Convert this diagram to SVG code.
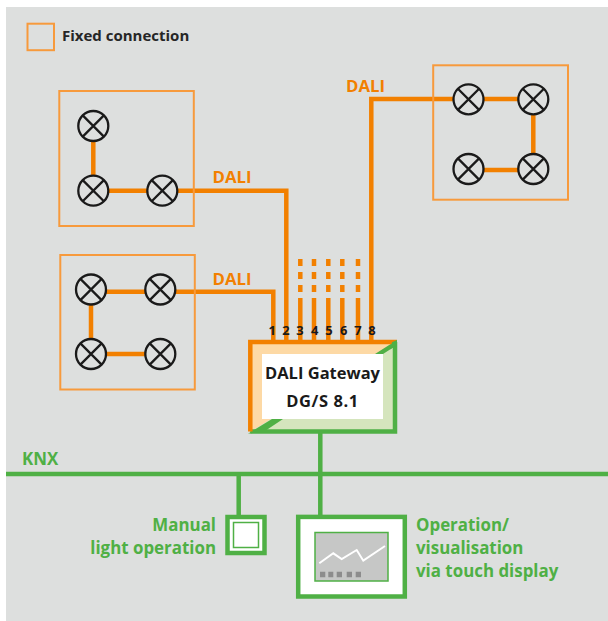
<svg xmlns="http://www.w3.org/2000/svg" width="608" height="621" viewBox="0 0 608 621">
<style>
text{font-family:"Open Sans","Noto Sans",sans-serif;font-weight:700}
.o{fill:none;stroke:#f28000;stroke-width:4.500}
.g{fill:none;stroke:#4fb045;stroke-width:4.500}
.fx{fill:none;stroke:#f79a3c;stroke-width:2}
.d{stroke-dasharray:7 6}
.lbl-o{fill:#f28000;font-size:16.800px}
.lbl-g{fill:#4fb045;font-size:16.900px}
.num{fill:#1a1a1a;font-size:13px;text-anchor:middle}
.k{fill:#1a1a1a;text-anchor:middle;font-size:16.500px}
.lamp circle{fill:none;stroke:#1a1a1a;stroke-width:2.300}
.lamp path{stroke:#1a1a1a;stroke-width:2.300;fill:none}
</style>
<defs>
<g id="lamp" class="lamp"><circle r="15"/><path d="M-10.600-10.600L10.600 10.600M-10.600 10.600L10.600-10.600"/></g>
</defs>
<rect width="608" height="621" fill="#fff"/>
<rect x="6" y="7" width="602" height="614" fill="#dddfde"/>
<g id="legend"><rect class="fx" x="27.500" y="23.700" width="26.500" height="26.500"/><text x="62" y="41" fill="#262626" font-size="15px">Fixed connection</text></g>
<g id="connectors">
<path class="o" d="M93.300 141V176M108 190.700H147M177 190.700H286.300V342M91 304V339M106 291.700H145M175 291.700H273.300V342M106 354H145M484 99H518M533.300 114V154M484 170H518M454 99H371.300V342"/>
<path class="o d" d="M300.300 259V298M314 259V298M328.300 259V298M342.300 259V298M358 259V298"/>
<path class="o" d="M300.300 298V342M314 298V342M328.300 298V342M342.300 298V342M358 298V342"/>
<path class="g" d="M6 474H608M320.300 433V517M238.700 474V515"/>
</g>
<g id="zone1"><rect class="fx" x="59.300" y="91" width="134.500" height="135"/><use href="#lamp" x="93.300" y="126"/><use href="#lamp" x="93.300" y="190.700"/><use href="#lamp" x="162.300" y="190.700"/><text class="lbl-o" x="212.500" y="183">DALI</text></g>
<g id="zone2"><rect class="fx" x="60.300" y="255" width="134.500" height="134.500"/><use href="#lamp" x="91" y="289.500"/><use href="#lamp" x="160.300" y="289.500"/><use href="#lamp" x="91" y="354"/><use href="#lamp" x="160.300" y="354"/><text class="lbl-o" x="212.500" y="285">DALI</text></g>
<g id="zone3"><rect class="fx" x="433.200" y="65.300" width="134.800" height="134.400"/><use href="#lamp" x="468.500" y="99.300"/><use href="#lamp" x="533.300" y="99.300"/><use href="#lamp" x="468.500" y="169"/><use href="#lamp" x="533.300" y="169"/><text class="lbl-o" x="346" y="91.500">DALI</text></g>
<g id="gateway">
<path d="M250 342H396L250 432Z" fill="#fdd9a5"/>
<path d="M396 342V432H250Z" fill="#d5e5bd"/>
<path d="M248 433.700L272 419H283L265 431ZM397 340L375 354H383L397 345Z" fill="#4fb045"/>
<rect x="262" y="354" width="121" height="65" fill="#fff"/>
<path class="g" d="M395 342V431.500H250.300"/>
<path class="o" d="M250.300 431.500V342H397"/>
<path d="M397 340V345L390 349.500L392 342.200Z" fill="#4fb045"/>
<text class="k" x="322.500" y="379">DALI Gateway</text>
<text class="k" x="322.500" y="407" letter-spacing=".6">DG/S 8.1</text>
<g><text class="num" x="272.300" y="335">1</text><text class="num" x="286" y="335">2</text><text class="num" x="300" y="335">3</text><text class="num" x="314.700" y="335">4</text><text class="num" x="329" y="335">5</text><text class="num" x="343.700" y="335">6</text><text class="num" x="358" y="335">7</text><text class="num" x="372" y="335">8</text></g>
</g>
<g id="knx"><text class="lbl-g" x="22" y="464.500">KNX</text></g>
<g id="manual"><rect x="227.500" y="517" width="37" height="36" fill="#fff" stroke="#4fb045" stroke-width="4.500"/><rect x="233.500" y="522.500" width="25" height="25" fill="#fff" stroke="#4fb045" stroke-width="1.500"/><text class="lbl-g" x="216" y="530.700" text-anchor="end">Manual</text><text class="lbl-g" x="216" y="553.700" text-anchor="end">light operation</text></g>
<g id="display"><rect x="298.200" y="516.900" width="106.600" height="79.600" fill="#fff" stroke="#4fb045" stroke-width="4.500"/><rect x="315" y="532.500" width="73" height="48.500" fill="#c6c7c6" stroke="#4fb045" stroke-width="1.500"/><path d="M319.300 563.300L333.300 553.300L341.700 559L356.700 550L363.300 560.700L385 546" fill="none" stroke="#fff" stroke-width="2"/><path d="M320 571.700h5.300v5.600h-5.300zM328.300 571.700h5v5.600h-5zM336.700 571.700h5.300v5.600h-5.300zM346.700 571.700h5.300v5.600h-5.300zM355.700 571.700h5.300v5.600h-5.300z" fill="#8c8c8c"/><text class="lbl-g" x="416" y="530.700">Operation/</text><text class="lbl-g" x="416" y="553.700">visualisation</text><text class="lbl-g" x="416" y="576.700">via touch display</text></g>
</svg>
